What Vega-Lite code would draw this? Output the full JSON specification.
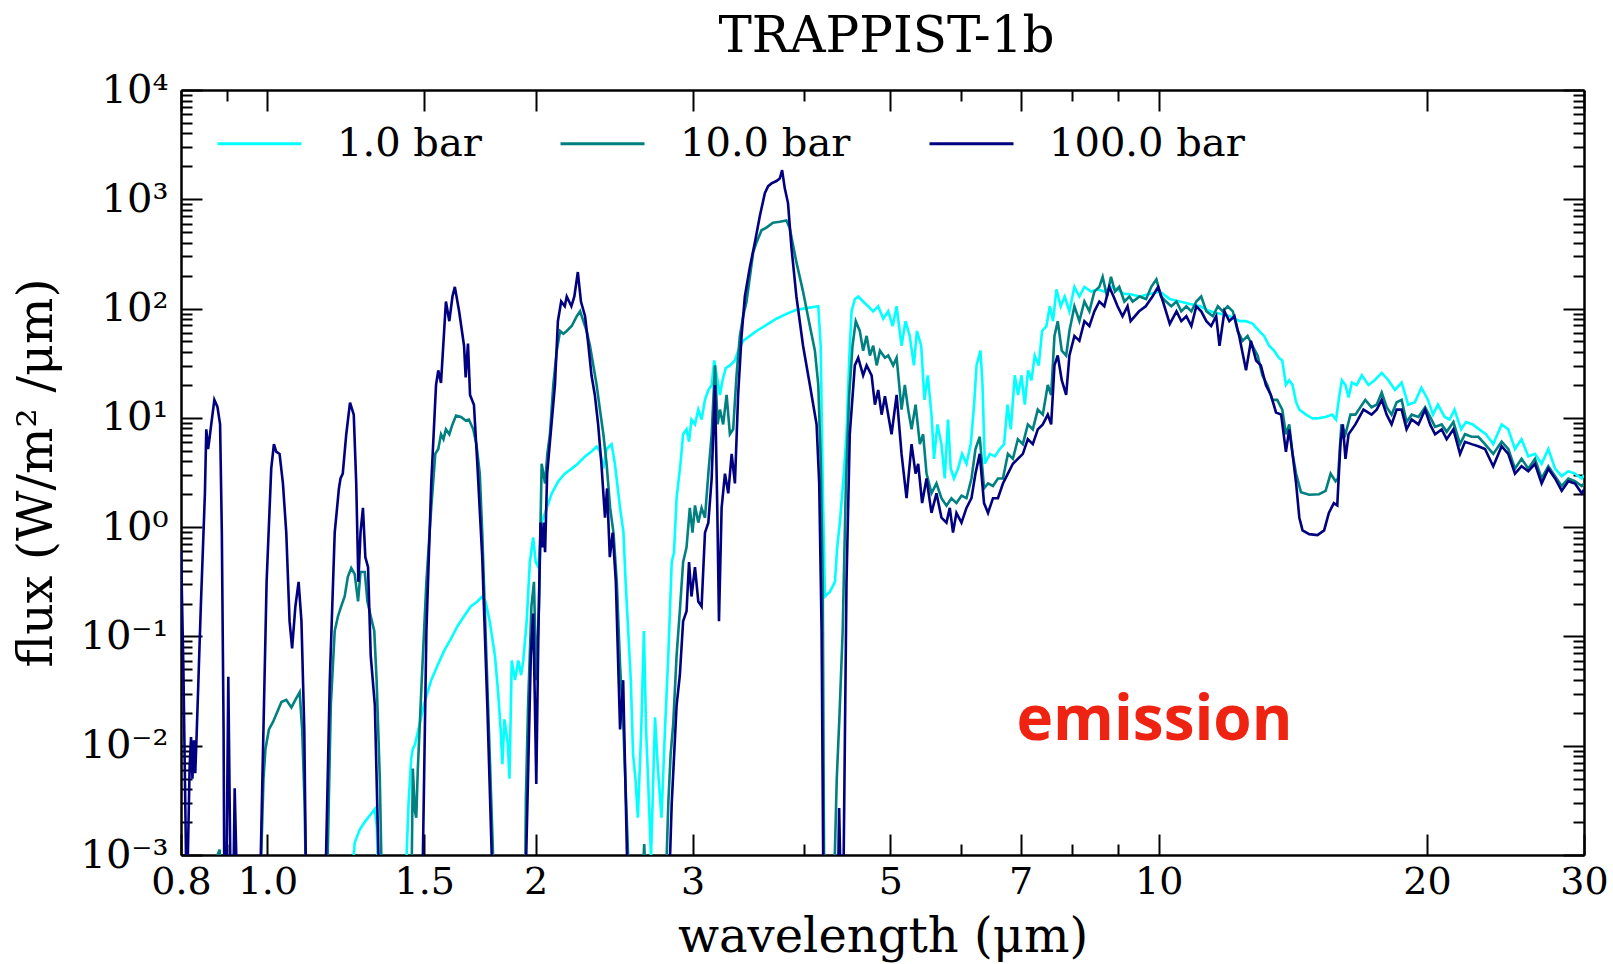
{
"$schema":"https://vega.github.io/schema/vega-lite/v6.json",
"width":1403,"height":765,
"autosize":{"type":"none"},
"padding":{"left":181,"top":90,"right":29,"bottom":109},
"background":"white",
"config":{"view":{"stroke":null},"font":"DejaVu Serif",
"axis":{"domainColor":"black","domainWidth":2.5,"tickColor":"black","tickWidth":2,"labelFont":"DejaVu Serif","labelFontSize":38,"labelColor":"black","titleFont":"DejaVu Serif","titleFontSize":48,"titleFontWeight":"normal","titleColor":"black","grid":false,"labelOverlap":false,"labelFlush":false}},
"title":{"text":"TRAPPIST-1b","font":"DejaVu Serif","fontSize":50,"fontWeight":"normal","color":"black","offset":-32,"baseline":"alphabetic","anchor":"middle","dx":4},
"datasets":{"spec":[
{"p":"1.0 bar","w":0.8,"f":0.0003},{"p":"1.0 bar","w":1.235,"f":0.0003},{"p":"1.0 bar","w":1.253,"f":0.00129},{"p":"1.0 bar","w":1.269,"f":0.0017},{"p":"1.0 bar","w":1.286,"f":0.002},{"p":"1.0 bar","w":1.302,"f":0.00229},{"p":"1.0 bar","w":1.32,"f":0.00263},{"p":"1.0 bar","w":1.327,"f":0.00178},{"p":"1.0 bar","w":1.333,"f":0.0003},{"p":"1.0 bar","w":1.425,"f":0.0003},{"p":"1.0 bar","w":1.44,"f":0.00295},{"p":"1.0 bar","w":1.45,"f":0.00759},{"p":"1.0 bar","w":1.456,"f":0.00933},{"p":"1.0 bar","w":1.464,"f":0.0102},{"p":"1.0 bar","w":1.482,"f":0.0158},{"p":"1.0 bar","w":1.501,"f":0.0251},{"p":"1.0 bar","w":1.527,"f":0.0398},{"p":"1.0 bar","w":1.552,"f":0.0543},{"p":"1.0 bar","w":1.579,"f":0.0741},{"p":"1.0 bar","w":1.607,"f":0.0955},{"p":"1.0 bar","w":1.634,"f":0.124},{"p":"1.0 bar","w":1.662,"f":0.153},{"p":"1.0 bar","w":1.691,"f":0.188},{"p":"1.0 bar","w":1.72,"f":0.209},{"p":"1.0 bar","w":1.742,"f":0.232},{"p":"1.0 bar","w":1.757,"f":0.209},{"p":"1.0 bar","w":1.776,"f":0.138},{"p":"1.0 bar","w":1.8,"f":0.0668},{"p":"1.0 bar","w":1.814,"f":0.0324},{"p":"1.0 bar","w":1.827,"f":0.0141},{"p":"1.0 bar","w":1.835,"f":0.00676},{"p":"1.0 bar","w":1.845,"f":0.0174},{"p":"1.0 bar","w":1.861,"f":0.0104},{"p":"1.0 bar","w":1.869,"f":0.005},{"p":"1.0 bar","w":1.88,"f":0.0603},{"p":"1.0 bar","w":1.896,"f":0.0398},{"p":"1.0 bar","w":1.912,"f":0.0603},{"p":"1.0 bar","w":1.926,"f":0.0442},{"p":"1.0 bar","w":1.937,"f":0.0603},{"p":"1.0 bar","w":1.954,"f":0.138},{"p":"1.0 bar","w":1.97,"f":0.479},{"p":"1.0 bar","w":1.987,"f":0.804},{"p":"1.0 bar","w":2.0,"f":0.479},{"p":"1.0 bar","w":2.014,"f":0.431},{"p":"1.0 bar","w":2.031,"f":1.1},{"p":"1.0 bar","w":2.058,"f":1.5},{"p":"1.0 bar","w":2.085,"f":2.04},{"p":"1.0 bar","w":2.121,"f":2.64},{"p":"1.0 bar","w":2.156,"f":3.09},{"p":"1.0 bar","w":2.195,"f":3.43},{"p":"1.0 bar","w":2.23,"f":3.8},{"p":"1.0 bar","w":2.272,"f":4.44},{"p":"1.0 bar","w":2.31,"f":4.92},{"p":"1.0 bar","w":2.341,"f":5.46},{"p":"1.0 bar","w":2.361,"f":4.92},{"p":"1.0 bar","w":2.382,"f":3.43},{"p":"1.0 bar","w":2.402,"f":5.19},{"p":"1.0 bar","w":2.433,"f":5.75},{"p":"1.0 bar","w":2.454,"f":3.8},{"p":"1.0 bar","w":2.487,"f":1.5},{"p":"1.0 bar","w":2.509,"f":0.891},{"p":"1.0 bar","w":2.523,"f":0.316},{"p":"1.0 bar","w":2.54,"f":0.112},{"p":"1.0 bar","w":2.557,"f":0.0398},{"p":"1.0 bar","w":2.572,"f":0.00832},{"p":"1.0 bar","w":2.588,"f":0.005},{"p":"1.0 bar","w":2.604,"f":0.00219},{"p":"1.0 bar","w":2.627,"f":0.0141},{"p":"1.0 bar","w":2.645,"f":0.112},{"p":"1.0 bar","w":2.66,"f":0.0141},{"p":"1.0 bar","w":2.676,"f":0.00407},{"p":"1.0 bar","w":2.694,"f":0.00095},{"p":"1.0 bar","w":2.722,"f":0.0182},{"p":"1.0 bar","w":2.742,"f":0.0063},{"p":"1.0 bar","w":2.768,"f":0.00219},{"p":"1.0 bar","w":2.793,"f":0.0141},{"p":"1.0 bar","w":2.817,"f":0.0668},{"p":"1.0 bar","w":2.842,"f":0.479},{"p":"1.0 bar","w":2.859,"f":0.589},{"p":"1.0 bar","w":2.878,"f":1.84},{"p":"1.0 bar","w":2.907,"f":3.8},{"p":"1.0 bar","w":2.927,"f":7.08},{"p":"1.0 bar","w":2.953,"f":7.85},{"p":"1.0 bar","w":2.972,"f":6.05},{"p":"1.0 bar","w":2.991,"f":9.66},{"p":"1.0 bar","w":3.018,"f":8.71},{"p":"1.0 bar","w":3.044,"f":11.9},{"p":"1.0 bar","w":3.07,"f":9.66},{"p":"1.0 bar","w":3.097,"f":14.6},{"p":"1.0 bar","w":3.124,"f":18},{"p":"1.0 bar","w":3.151,"f":20},{"p":"1.0 bar","w":3.172,"f":33.5},{"p":"1.0 bar","w":3.192,"f":24.5},{"p":"1.0 bar","w":3.219,"f":16.2},{"p":"1.0 bar","w":3.241,"f":22.1},{"p":"1.0 bar","w":3.268,"f":28.6},{"p":"1.0 bar","w":3.303,"f":30.2},{"p":"1.0 bar","w":3.346,"f":33.5},{"p":"1.0 bar","w":3.374,"f":41.2},{"p":"1.0 bar","w":3.418,"f":50.7},{"p":"1.0 bar","w":3.478,"f":56.2},{"p":"1.0 bar","w":3.538,"f":62.4},{"p":"1.0 bar","w":3.63,"f":70.8},{"p":"1.0 bar","w":3.725,"f":80.7},{"p":"1.0 bar","w":3.822,"f":89.5},{"p":"1.0 bar","w":3.922,"f":97.3},{"p":"1.0 bar","w":4.025,"f":101},{"p":"1.0 bar","w":4.15,"f":105},{"p":"1.0 bar","w":4.176,"f":45.7},{"p":"1.0 bar","w":4.198,"f":2.51},{"p":"1.0 bar","w":4.222,"f":0.232},{"p":"1.0 bar","w":4.277,"f":0.257},{"p":"1.0 bar","w":4.333,"f":0.316},{"p":"1.0 bar","w":4.358,"f":0.653},{"p":"1.0 bar","w":4.388,"f":1.1},{"p":"1.0 bar","w":4.425,"f":2.51},{"p":"1.0 bar","w":4.464,"f":7.08},{"p":"1.0 bar","w":4.495,"f":33.5},{"p":"1.0 bar","w":4.523,"f":94.4},{"p":"1.0 bar","w":4.561,"f":122},{"p":"1.0 bar","w":4.601,"f":129},{"p":"1.0 bar","w":4.66,"f":116},{"p":"1.0 bar","w":4.72,"f":105},{"p":"1.0 bar","w":4.783,"f":94.4},{"p":"1.0 bar","w":4.845,"f":105},{"p":"1.0 bar","w":4.909,"f":80.7},{"p":"1.0 bar","w":4.972,"f":94.4},{"p":"1.0 bar","w":5.03,"f":69.2},{"p":"1.0 bar","w":5.081,"f":105},{"p":"1.0 bar","w":5.146,"f":45.7},{"p":"1.0 bar","w":5.199,"f":76.7},{"p":"1.0 bar","w":5.256,"f":56.2},{"p":"1.0 bar","w":5.313,"f":30.2},{"p":"1.0 bar","w":5.354,"f":62.4},{"p":"1.0 bar","w":5.414,"f":45.7},{"p":"1.0 bar","w":5.46,"f":14.6},{"p":"1.0 bar","w":5.507,"f":24.5},{"p":"1.0 bar","w":5.56,"f":10.7},{"p":"1.0 bar","w":5.596,"f":4.22},{"p":"1.0 bar","w":5.646,"f":8.71},{"p":"1.0 bar","w":5.705,"f":5.75},{"p":"1.0 bar","w":5.754,"f":2.79},{"p":"1.0 bar","w":5.803,"f":9.66},{"p":"1.0 bar","w":5.843,"f":3.43},{"p":"1.0 bar","w":5.893,"f":2.79},{"p":"1.0 bar","w":5.955,"f":3.43},{"p":"1.0 bar","w":6.017,"f":4.68},{"p":"1.0 bar","w":6.086,"f":3.8},{"p":"1.0 bar","w":6.154,"f":5.75},{"p":"1.0 bar","w":6.207,"f":13.2},{"p":"1.0 bar","w":6.246,"f":30.2},{"p":"1.0 bar","w":6.31,"f":41.2},{"p":"1.0 bar","w":6.343,"f":20},{"p":"1.0 bar","w":6.381,"f":3.8},{"p":"1.0 bar","w":6.464,"f":4.68},{"p":"1.0 bar","w":6.548,"f":4.44},{"p":"1.0 bar","w":6.633,"f":5.19},{"p":"1.0 bar","w":6.707,"f":5.75},{"p":"1.0 bar","w":6.766,"f":13.2},{"p":"1.0 bar","w":6.824,"f":7.85},{"p":"1.0 bar","w":6.895,"f":24.5},{"p":"1.0 bar","w":6.954,"f":16.2},{"p":"1.0 bar","w":7.015,"f":24.5},{"p":"1.0 bar","w":7.075,"f":13.2},{"p":"1.0 bar","w":7.136,"f":27.2},{"p":"1.0 bar","w":7.198,"f":22.1},{"p":"1.0 bar","w":7.26,"f":37.2},{"p":"1.0 bar","w":7.335,"f":30.2},{"p":"1.0 bar","w":7.398,"f":62.4},{"p":"1.0 bar","w":7.482,"f":69.2},{"p":"1.0 bar","w":7.547,"f":105},{"p":"1.0 bar","w":7.611,"f":76.7},{"p":"1.0 bar","w":7.678,"f":150},{"p":"1.0 bar","w":7.763,"f":105},{"p":"1.0 bar","w":7.844,"f":129},{"p":"1.0 bar","w":7.94,"f":94.4},{"p":"1.0 bar","w":8.043,"f":158},{"p":"1.0 bar","w":8.147,"f":129},{"p":"1.0 bar","w":8.253,"f":158},{"p":"1.0 bar","w":8.396,"f":143},{"p":"1.0 bar","w":8.541,"f":150},{"p":"1.0 bar","w":8.689,"f":143},{"p":"1.0 bar","w":8.84,"f":158},{"p":"1.0 bar","w":8.991,"f":150},{"p":"1.0 bar","w":9.15,"f":136},{"p":"1.0 bar","w":9.27,"f":136},{"p":"1.0 bar","w":9.52,"f":129},{"p":"1.0 bar","w":9.77,"f":136},{"p":"1.0 bar","w":10.03,"f":143},{"p":"1.0 bar","w":10.29,"f":122},{"p":"1.0 bar","w":10.56,"f":116},{"p":"1.0 bar","w":10.84,"f":110},{"p":"1.0 bar","w":11.13,"f":105},{"p":"1.0 bar","w":11.42,"f":94.4},{"p":"1.0 bar","w":11.72,"f":89.5},{"p":"1.0 bar","w":12.02,"f":85.1},{"p":"1.0 bar","w":12.33,"f":76.7},{"p":"1.0 bar","w":12.53,"f":76.7},{"p":"1.0 bar","w":12.74,"f":72.8},{"p":"1.0 bar","w":12.96,"f":62.4},{"p":"1.0 bar","w":13.13,"f":56.2},{"p":"1.0 bar","w":13.3,"f":45.7},{"p":"1.0 bar","w":13.47,"f":41.2},{"p":"1.0 bar","w":13.65,"f":35.2},{"p":"1.0 bar","w":13.76,"f":33.5},{"p":"1.0 bar","w":13.89,"f":20},{"p":"1.0 bar","w":14.01,"f":22.1},{"p":"1.0 bar","w":14.13,"f":20},{"p":"1.0 bar","w":14.26,"f":13.9},{"p":"1.0 bar","w":14.38,"f":11.9},{"p":"1.0 bar","w":14.63,"f":10.7},{"p":"1.0 bar","w":14.88,"f":9.86},{"p":"1.0 bar","w":15.13,"f":9.95},{"p":"1.0 bar","w":15.39,"f":10.2},{"p":"1.0 bar","w":15.65,"f":10.7},{"p":"1.0 bar","w":15.81,"f":9.66},{"p":"1.0 bar","w":15.95,"f":16.2},{"p":"1.0 bar","w":16.05,"f":22.1},{"p":"1.0 bar","w":16.2,"f":20},{"p":"1.0 bar","w":16.33,"f":15.4},{"p":"1.0 bar","w":16.47,"f":21},{"p":"1.0 bar","w":16.68,"f":20},{"p":"1.0 bar","w":16.9,"f":24.5},{"p":"1.0 bar","w":17.19,"f":20},{"p":"1.0 bar","w":17.47,"f":22.1},{"p":"1.0 bar","w":17.79,"f":25.8},{"p":"1.0 bar","w":18.1,"f":22.1},{"p":"1.0 bar","w":18.41,"f":18},{"p":"1.0 bar","w":18.73,"f":21},{"p":"1.0 bar","w":19.05,"f":13.2},{"p":"1.0 bar","w":19.38,"f":13.9},{"p":"1.0 bar","w":19.71,"f":18.9},{"p":"1.0 bar","w":20.05,"f":14.6},{"p":"1.0 bar","w":20.31,"f":10.7},{"p":"1.0 bar","w":20.57,"f":13.2},{"p":"1.0 bar","w":20.93,"f":10.2},{"p":"1.0 bar","w":21.2,"f":9.66},{"p":"1.0 bar","w":21.47,"f":11.9},{"p":"1.0 bar","w":21.84,"f":7.85},{"p":"1.0 bar","w":22.12,"f":9.16},{"p":"1.0 bar","w":22.5,"f":8.71},{"p":"1.0 bar","w":22.89,"f":7.85},{"p":"1.0 bar","w":23.29,"f":7.08},{"p":"1.0 bar","w":23.73,"f":5.75},{"p":"1.0 bar","w":24.25,"f":8.71},{"p":"1.0 bar","w":24.67,"f":7.85},{"p":"1.0 bar","w":25.1,"f":5.19},{"p":"1.0 bar","w":25.53,"f":6.38},{"p":"1.0 bar","w":25.98,"f":4.44},{"p":"1.0 bar","w":26.43,"f":4.68},{"p":"1.0 bar","w":26.89,"f":3.8},{"p":"1.0 bar","w":27.36,"f":5.19},{"p":"1.0 bar","w":27.84,"f":3.43},{"p":"1.0 bar","w":28.32,"f":2.93},{"p":"1.0 bar","w":28.81,"f":3.25},{"p":"1.0 bar","w":29.31,"f":3.09},{"p":"1.0 bar","w":29.82,"f":2.79},{"p":"1.0 bar","w":30.0,"f":3.0},
{"p":"10.0 bar","w":0.8,"f":0.0003},{"p":"10.0 bar","w":0.87,"f":0.0003},{"p":"10.0 bar","w":0.879,"f":0.001},{"p":"10.0 bar","w":0.884,"f":0.00112},{"p":"10.0 bar","w":0.888,"f":0.0003},{"p":"10.0 bar","w":0.98,"f":0.0003},{"p":"10.0 bar","w":0.99,"f":0.005},{"p":"10.0 bar","w":0.995,"f":0.00933},{"p":"10.0 bar","w":1.004,"f":0.0141},{"p":"10.0 bar","w":1.015,"f":0.0166},{"p":"10.0 bar","w":1.023,"f":0.0193},{"p":"10.0 bar","w":1.037,"f":0.0251},{"p":"10.0 bar","w":1.05,"f":0.0263},{"p":"10.0 bar","w":1.064,"f":0.0224},{"p":"10.0 bar","w":1.075,"f":0.0263},{"p":"10.0 bar","w":1.087,"f":0.0309},{"p":"10.0 bar","w":1.094,"f":0.0141},{"p":"10.0 bar","w":1.101,"f":0.00295},{"p":"10.0 bar","w":1.106,"f":0.0003},{"p":"10.0 bar","w":1.165,"f":0.0003},{"p":"10.0 bar","w":1.178,"f":0.0234},{"p":"10.0 bar","w":1.19,"f":0.112},{"p":"10.0 bar","w":1.2,"f":0.153},{"p":"10.0 bar","w":1.21,"f":0.188},{"p":"10.0 bar","w":1.221,"f":0.232},{"p":"10.0 bar","w":1.231,"f":0.351},{"p":"10.0 bar","w":1.242,"f":0.422},{"p":"10.0 bar","w":1.253,"f":0.372},{"p":"10.0 bar","w":1.264,"f":0.209},{"p":"10.0 bar","w":1.272,"f":0.389},{"p":"10.0 bar","w":1.286,"f":0.389},{"p":"10.0 bar","w":1.295,"f":0.209},{"p":"10.0 bar","w":1.306,"f":0.153},{"p":"10.0 bar","w":1.318,"f":0.112},{"p":"10.0 bar","w":1.326,"f":0.0398},{"p":"10.0 bar","w":1.337,"f":0.005},{"p":"10.0 bar","w":1.346,"f":0.0003},{"p":"10.0 bar","w":1.45,"f":0.0003},{"p":"10.0 bar","w":1.456,"f":0.00617},{"p":"10.0 bar","w":1.464,"f":0.00251},{"p":"10.0 bar","w":1.469,"f":0.00219},{"p":"10.0 bar","w":1.475,"f":0.00617},{"p":"10.0 bar","w":1.49,"f":0.0398},{"p":"10.0 bar","w":1.508,"f":0.316},{"p":"10.0 bar","w":1.527,"f":1.5},{"p":"10.0 bar","w":1.543,"f":4.68},{"p":"10.0 bar","w":1.555,"f":5.19},{"p":"10.0 bar","w":1.566,"f":7.08},{"p":"10.0 bar","w":1.576,"f":6.38},{"p":"10.0 bar","w":1.586,"f":7.85},{"p":"10.0 bar","w":1.6,"f":7.08},{"p":"10.0 bar","w":1.613,"f":8.71},{"p":"10.0 bar","w":1.628,"f":10.5},{"p":"10.0 bar","w":1.649,"f":10.2},{"p":"10.0 bar","w":1.669,"f":9.44},{"p":"10.0 bar","w":1.683,"f":9.66},{"p":"10.0 bar","w":1.702,"f":7.85},{"p":"10.0 bar","w":1.716,"f":5.75},{"p":"10.0 bar","w":1.731,"f":3.09},{"p":"10.0 bar","w":1.742,"f":0.891},{"p":"10.0 bar","w":1.757,"f":0.112},{"p":"10.0 bar","w":1.776,"f":0.00832},{"p":"10.0 bar","w":1.8,"f":0.0003},{"p":"10.0 bar","w":1.945,"f":0.0003},{"p":"10.0 bar","w":1.95,"f":0.00331},{"p":"10.0 bar","w":1.961,"f":0.0234},{"p":"10.0 bar","w":1.978,"f":0.188},{"p":"10.0 bar","w":1.991,"f":0.316},{"p":"10.0 bar","w":2.003,"f":0.0398},{"p":"10.0 bar","w":2.017,"f":0.188},{"p":"10.0 bar","w":2.031,"f":3.8},{"p":"10.0 bar","w":2.049,"f":2.51},{"p":"10.0 bar","w":2.061,"f":4.68},{"p":"10.0 bar","w":2.075,"f":7.08},{"p":"10.0 bar","w":2.093,"f":20},{"p":"10.0 bar","w":2.112,"f":41.2},{"p":"10.0 bar","w":2.13,"f":62.4},{"p":"10.0 bar","w":2.148,"f":58.9},{"p":"10.0 bar","w":2.167,"f":62.4},{"p":"10.0 bar","w":2.195,"f":69.2},{"p":"10.0 bar","w":2.224,"f":85.1},{"p":"10.0 bar","w":2.243,"f":94.4},{"p":"10.0 bar","w":2.262,"f":76.7},{"p":"10.0 bar","w":2.281,"f":62.4},{"p":"10.0 bar","w":2.301,"f":45.7},{"p":"10.0 bar","w":2.321,"f":30.2},{"p":"10.0 bar","w":2.341,"f":20},{"p":"10.0 bar","w":2.361,"f":11.9},{"p":"10.0 bar","w":2.382,"f":7.08},{"p":"10.0 bar","w":2.402,"f":3.8},{"p":"10.0 bar","w":2.424,"f":1.5},{"p":"10.0 bar","w":2.445,"f":0.891},{"p":"10.0 bar","w":2.466,"f":0.316},{"p":"10.0 bar","w":2.487,"f":0.0543},{"p":"10.0 bar","w":2.509,"f":0.0141},{"p":"10.0 bar","w":2.553,"f":0.0003},{"p":"10.0 bar","w":2.627,"f":0.0003},{"p":"10.0 bar","w":2.647,"f":0.00126},{"p":"10.0 bar","w":2.667,"f":0.0003},{"p":"10.0 bar","w":2.793,"f":0.0003},{"p":"10.0 bar","w":2.817,"f":0.00295},{"p":"10.0 bar","w":2.834,"f":0.00832},{"p":"10.0 bar","w":2.853,"f":0.0158},{"p":"10.0 bar","w":2.878,"f":0.0668},{"p":"10.0 bar","w":2.902,"f":0.17},{"p":"10.0 bar","w":2.927,"f":0.479},{"p":"10.0 bar","w":2.953,"f":0.653},{"p":"10.0 bar","w":2.978,"f":1.5},{"p":"10.0 bar","w":2.999,"f":0.891},{"p":"10.0 bar","w":3.018,"f":1.58},{"p":"10.0 bar","w":3.044,"f":1.1},{"p":"10.0 bar","w":3.07,"f":1.5},{"p":"10.0 bar","w":3.097,"f":1.22},{"p":"10.0 bar","w":3.124,"f":3.09},{"p":"10.0 bar","w":3.151,"f":7.08},{"p":"10.0 bar","w":3.178,"f":30.2},{"p":"10.0 bar","w":3.2,"f":8.71},{"p":"10.0 bar","w":3.219,"f":11.9},{"p":"10.0 bar","w":3.246,"f":8.71},{"p":"10.0 bar","w":3.275,"f":16.2},{"p":"10.0 bar","w":3.303,"f":7.08},{"p":"10.0 bar","w":3.331,"f":7.85},{"p":"10.0 bar","w":3.36,"f":24.5},{"p":"10.0 bar","w":3.389,"f":56.2},{"p":"10.0 bar","w":3.418,"f":85.1},{"p":"10.0 bar","w":3.448,"f":116},{"p":"10.0 bar","w":3.478,"f":195},{"p":"10.0 bar","w":3.508,"f":327},{"p":"10.0 bar","w":3.538,"f":403},{"p":"10.0 bar","w":3.584,"f":521},{"p":"10.0 bar","w":3.63,"f":550},{"p":"10.0 bar","w":3.692,"f":610},{"p":"10.0 bar","w":3.757,"f":622},{"p":"10.0 bar","w":3.822,"f":641},{"p":"10.0 bar","w":3.854,"f":550},{"p":"10.0 bar","w":3.922,"f":266},{"p":"10.0 bar","w":3.99,"f":143},{"p":"10.0 bar","w":4.061,"f":69.2},{"p":"10.0 bar","w":4.114,"f":41.2},{"p":"10.0 bar","w":4.15,"f":20},{"p":"10.0 bar","w":4.176,"f":4.22},{"p":"10.0 bar","w":4.198,"f":0.316},{"p":"10.0 bar","w":4.215,"f":0.0003},{"p":"10.0 bar","w":4.315,"f":0.0003},{"p":"10.0 bar","w":4.353,"f":0.005},{"p":"10.0 bar","w":4.382,"f":0.0174},{"p":"10.0 bar","w":4.42,"f":0.112},{"p":"10.0 bar","w":4.457,"f":2.51},{"p":"10.0 bar","w":4.495,"f":16.2},{"p":"10.0 bar","w":4.534,"f":45.7},{"p":"10.0 bar","w":4.572,"f":76.7},{"p":"10.0 bar","w":4.62,"f":62.4},{"p":"10.0 bar","w":4.66,"f":41.2},{"p":"10.0 bar","w":4.702,"f":56.2},{"p":"10.0 bar","w":4.742,"f":37.2},{"p":"10.0 bar","w":4.783,"f":45.7},{"p":"10.0 bar","w":4.826,"f":30.2},{"p":"10.0 bar","w":4.867,"f":41.2},{"p":"10.0 bar","w":4.93,"f":35.5},{"p":"10.0 bar","w":4.972,"f":37.2},{"p":"10.0 bar","w":5.036,"f":30.2},{"p":"10.0 bar","w":5.081,"f":35.5},{"p":"10.0 bar","w":5.146,"f":11.9},{"p":"10.0 bar","w":5.19,"f":20},{"p":"10.0 bar","w":5.235,"f":11.9},{"p":"10.0 bar","w":5.281,"f":7.85},{"p":"10.0 bar","w":5.336,"f":13.2},{"p":"10.0 bar","w":5.395,"f":5.75},{"p":"10.0 bar","w":5.441,"f":7.08},{"p":"10.0 bar","w":5.489,"f":3.09},{"p":"10.0 bar","w":5.56,"f":2.04},{"p":"10.0 bar","w":5.632,"f":2.51},{"p":"10.0 bar","w":5.705,"f":1.84},{"p":"10.0 bar","w":5.779,"f":1.57},{"p":"10.0 bar","w":5.854,"f":1.84},{"p":"10.0 bar","w":5.93,"f":1.66},{"p":"10.0 bar","w":6.008,"f":1.94},{"p":"10.0 bar","w":6.086,"f":1.84},{"p":"10.0 bar","w":6.165,"f":2.79},{"p":"10.0 bar","w":6.229,"f":5.19},{"p":"10.0 bar","w":6.298,"f":6.71},{"p":"10.0 bar","w":6.368,"f":2.26},{"p":"10.0 bar","w":6.434,"f":2.51},{"p":"10.0 bar","w":6.517,"f":2.38},{"p":"10.0 bar","w":6.601,"f":2.79},{"p":"10.0 bar","w":6.687,"f":2.79},{"p":"10.0 bar","w":6.773,"f":4.68},{"p":"10.0 bar","w":6.861,"f":4.22},{"p":"10.0 bar","w":6.95,"f":6.38},{"p":"10.0 bar","w":7.04,"f":5.75},{"p":"10.0 bar","w":7.131,"f":8.71},{"p":"10.0 bar","w":7.223,"f":7.85},{"p":"10.0 bar","w":7.317,"f":11.9},{"p":"10.0 bar","w":7.412,"f":10.7},{"p":"10.0 bar","w":7.508,"f":20},{"p":"10.0 bar","w":7.574,"f":16.2},{"p":"10.0 bar","w":7.639,"f":56.2},{"p":"10.0 bar","w":7.704,"f":76.7},{"p":"10.0 bar","w":7.784,"f":41.2},{"p":"10.0 bar","w":7.873,"f":37.2},{"p":"10.0 bar","w":7.94,"f":62.4},{"p":"10.0 bar","w":8.043,"f":105},{"p":"10.0 bar","w":8.147,"f":76.7},{"p":"10.0 bar","w":8.253,"f":116},{"p":"10.0 bar","w":8.36,"f":94.4},{"p":"10.0 bar","w":8.468,"f":143},{"p":"10.0 bar","w":8.578,"f":158},{"p":"10.0 bar","w":8.652,"f":195},{"p":"10.0 bar","w":8.75,"f":129},{"p":"10.0 bar","w":8.84,"f":195},{"p":"10.0 bar","w":8.932,"f":143},{"p":"10.0 bar","w":9.03,"f":158},{"p":"10.0 bar","w":9.15,"f":116},{"p":"10.0 bar","w":9.27,"f":129},{"p":"10.0 bar","w":9.35,"f":116},{"p":"10.0 bar","w":9.52,"f":129},{"p":"10.0 bar","w":9.68,"f":122},{"p":"10.0 bar","w":9.81,"f":158},{"p":"10.0 bar","w":9.94,"f":185},{"p":"10.0 bar","w":10.06,"f":129},{"p":"10.0 bar","w":10.19,"f":116},{"p":"10.0 bar","w":10.33,"f":105},{"p":"10.0 bar","w":10.47,"f":116},{"p":"10.0 bar","w":10.6,"f":94.4},{"p":"10.0 bar","w":10.74,"f":105},{"p":"10.0 bar","w":10.88,"f":94.4},{"p":"10.0 bar","w":11.02,"f":116},{"p":"10.0 bar","w":11.16,"f":129},{"p":"10.0 bar","w":11.31,"f":94.4},{"p":"10.0 bar","w":11.5,"f":85.1},{"p":"10.0 bar","w":11.65,"f":105},{"p":"10.0 bar","w":11.8,"f":94.4},{"p":"10.0 bar","w":11.95,"f":105},{"p":"10.0 bar","w":12.11,"f":94.4},{"p":"10.0 bar","w":12.26,"f":62.4},{"p":"10.0 bar","w":12.42,"f":50.7},{"p":"10.0 bar","w":12.58,"f":56.2},{"p":"10.0 bar","w":12.74,"f":45.7},{"p":"10.0 bar","w":12.91,"f":37.2},{"p":"10.0 bar","w":13.07,"f":24.5},{"p":"10.0 bar","w":13.24,"f":20},{"p":"10.0 bar","w":13.41,"f":14.6},{"p":"10.0 bar","w":13.58,"f":14.6},{"p":"10.0 bar","w":13.76,"f":11.9},{"p":"10.0 bar","w":13.89,"f":7.08},{"p":"10.0 bar","w":14.01,"f":8.71},{"p":"10.0 bar","w":14.13,"f":4.68},{"p":"10.0 bar","w":14.26,"f":3.09},{"p":"10.0 bar","w":14.44,"f":2.09},{"p":"10.0 bar","w":14.75,"f":1.98},{"p":"10.0 bar","w":15.13,"f":2.0},{"p":"10.0 bar","w":15.39,"f":2.15},{"p":"10.0 bar","w":15.59,"f":3.09},{"p":"10.0 bar","w":15.79,"f":2.63},{"p":"10.0 bar","w":15.89,"f":2.79},{"p":"10.0 bar","w":16.03,"f":8.71},{"p":"10.0 bar","w":16.2,"f":7.08},{"p":"10.0 bar","w":16.41,"f":10.7},{"p":"10.0 bar","w":16.62,"f":10.7},{"p":"10.0 bar","w":17.05,"f":14.6},{"p":"10.0 bar","w":17.33,"f":12.5},{"p":"10.0 bar","w":17.56,"f":13.2},{"p":"10.0 bar","w":17.79,"f":17.1},{"p":"10.0 bar","w":18.02,"f":12.5},{"p":"10.0 bar","w":18.25,"f":10.7},{"p":"10.0 bar","w":18.49,"f":13.9},{"p":"10.0 bar","w":18.73,"f":14.6},{"p":"10.0 bar","w":18.97,"f":9.16},{"p":"10.0 bar","w":19.22,"f":10.7},{"p":"10.0 bar","w":19.56,"f":10.2},{"p":"10.0 bar","w":19.9,"f":12.5},{"p":"10.0 bar","w":20.16,"f":10.2},{"p":"10.0 bar","w":20.42,"f":8.26},{"p":"10.0 bar","w":20.77,"f":8.71},{"p":"10.0 bar","w":21.04,"f":7.45},{"p":"10.0 bar","w":21.41,"f":9.16},{"p":"10.0 bar","w":21.78,"f":5.75},{"p":"10.0 bar","w":22.06,"f":7.08},{"p":"10.0 bar","w":22.44,"f":6.71},{"p":"10.0 bar","w":22.83,"f":6.71},{"p":"10.0 bar","w":23.23,"f":5.75},{"p":"10.0 bar","w":23.73,"f":4.68},{"p":"10.0 bar","w":24.25,"f":6.05},{"p":"10.0 bar","w":24.67,"f":5.19},{"p":"10.0 bar","w":25.1,"f":3.43},{"p":"10.0 bar","w":25.53,"f":4.22},{"p":"10.0 bar","w":25.98,"f":3.43},{"p":"10.0 bar","w":26.43,"f":4.22},{"p":"10.0 bar","w":26.89,"f":2.79},{"p":"10.0 bar","w":27.36,"f":3.61},{"p":"10.0 bar","w":27.84,"f":2.93},{"p":"10.0 bar","w":28.32,"f":2.38},{"p":"10.0 bar","w":28.81,"f":2.79},{"p":"10.0 bar","w":29.31,"f":2.64},{"p":"10.0 bar","w":29.82,"f":2.38},{"p":"10.0 bar","w":30.0,"f":2.5},
{"p":"100.0 bar","w":0.8,"f":0.617},{"p":"100.0 bar","w":0.805,"f":0.0501},{"p":"100.0 bar","w":0.812,"f":0.0003},{"p":"100.0 bar","w":0.818,"f":0.0063},{"p":"100.0 bar","w":0.821,"f":0.012},{"p":"100.0 bar","w":0.824,"f":0.005},{"p":"100.0 bar","w":0.827,"f":0.0112},{"p":"100.0 bar","w":0.83,"f":0.0056},{"p":"100.0 bar","w":0.833,"f":0.0126},{"p":"100.0 bar","w":0.842,"f":0.186},{"p":"100.0 bar","w":0.851,"f":2.04},{"p":"100.0 bar","w":0.854,"f":7.85},{"p":"100.0 bar","w":0.858,"f":5.19},{"p":"100.0 bar","w":0.861,"f":6.38},{"p":"100.0 bar","w":0.865,"f":8.71},{"p":"100.0 bar","w":0.872,"f":14.6},{"p":"100.0 bar","w":0.879,"f":12.6},{"p":"100.0 bar","w":0.885,"f":8.71},{"p":"100.0 bar","w":0.889,"f":0.891},{"p":"100.0 bar","w":0.893,"f":0.0141},{"p":"100.0 bar","w":0.895,"f":0.0003},{"p":"100.0 bar","w":0.899,"f":0.0003},{"p":"100.0 bar","w":0.904,"f":0.0427},{"p":"100.0 bar","w":0.91,"f":0.0003},{"p":"100.0 bar","w":0.915,"f":0.0003},{"p":"100.0 bar","w":0.919,"f":0.00407},{"p":"100.0 bar","w":0.926,"f":0.0003},{"p":"100.0 bar","w":0.98,"f":0.0003},{"p":"100.0 bar","w":0.998,"f":0.316},{"p":"100.0 bar","w":1.01,"f":3.43},{"p":"100.0 bar","w":1.017,"f":5.75},{"p":"100.0 bar","w":1.023,"f":4.9},{"p":"100.0 bar","w":1.032,"f":4.68},{"p":"100.0 bar","w":1.041,"f":2.51},{"p":"100.0 bar","w":1.05,"f":0.891},{"p":"100.0 bar","w":1.059,"f":0.138},{"p":"100.0 bar","w":1.066,"f":0.0776},{"p":"100.0 bar","w":1.075,"f":0.188},{"p":"100.0 bar","w":1.084,"f":0.316},{"p":"100.0 bar","w":1.092,"f":0.138},{"p":"100.0 bar","w":1.1,"f":0.0141},{"p":"100.0 bar","w":1.106,"f":0.0003},{"p":"100.0 bar","w":1.16,"f":0.0003},{"p":"100.0 bar","w":1.175,"f":0.0398},{"p":"100.0 bar","w":1.19,"f":0.891},{"p":"100.0 bar","w":1.203,"f":2.26},{"p":"100.0 bar","w":1.208,"f":2.79},{"p":"100.0 bar","w":1.215,"f":3.09},{"p":"100.0 bar","w":1.226,"f":7.08},{"p":"100.0 bar","w":1.238,"f":13.8},{"p":"100.0 bar","w":1.25,"f":10.7},{"p":"100.0 bar","w":1.258,"f":2.51},{"p":"100.0 bar","w":1.265,"f":0.316},{"p":"100.0 bar","w":1.272,"f":0.891},{"p":"100.0 bar","w":1.28,"f":1.5},{"p":"100.0 bar","w":1.288,"f":0.531},{"p":"100.0 bar","w":1.297,"f":0.431},{"p":"100.0 bar","w":1.306,"f":0.0668},{"p":"100.0 bar","w":1.32,"f":0.0234},{"p":"100.0 bar","w":1.337,"f":0.0003},{"p":"100.0 bar","w":1.491,"f":0.0003},{"p":"100.0 bar","w":1.508,"f":0.112},{"p":"100.0 bar","w":1.527,"f":2.51},{"p":"100.0 bar","w":1.546,"f":20},{"p":"100.0 bar","w":1.555,"f":27.2},{"p":"100.0 bar","w":1.566,"f":20.9},{"p":"100.0 bar","w":1.586,"f":116},{"p":"100.0 bar","w":1.6,"f":76.7},{"p":"100.0 bar","w":1.613,"f":129},{"p":"100.0 bar","w":1.623,"f":158},{"p":"100.0 bar","w":1.641,"f":94.4},{"p":"100.0 bar","w":1.662,"f":45.7},{"p":"100.0 bar","w":1.669,"f":23.4},{"p":"100.0 bar","w":1.679,"f":47.9},{"p":"100.0 bar","w":1.688,"f":16.2},{"p":"100.0 bar","w":1.705,"f":13.2},{"p":"100.0 bar","w":1.72,"f":3.8},{"p":"100.0 bar","w":1.742,"f":0.531},{"p":"100.0 bar","w":1.765,"f":0.0234},{"p":"100.0 bar","w":1.793,"f":0.0003},{"p":"100.0 bar","w":1.945,"f":0.0003},{"p":"100.0 bar","w":1.975,"f":0.0668},{"p":"100.0 bar","w":1.987,"f":0.162},{"p":"100.0 bar","w":1.996,"f":0.0234},{"p":"100.0 bar","w":2.003,"f":0.00447},{"p":"100.0 bar","w":2.014,"f":0.112},{"p":"100.0 bar","w":2.025,"f":1.1},{"p":"100.0 bar","w":2.035,"f":0.653},{"p":"100.0 bar","w":2.042,"f":1.1},{"p":"100.0 bar","w":2.049,"f":0.589},{"p":"100.0 bar","w":2.06,"f":3.09},{"p":"100.0 bar","w":2.102,"f":20},{"p":"100.0 bar","w":2.118,"f":76.7},{"p":"100.0 bar","w":2.136,"f":116},{"p":"100.0 bar","w":2.156,"f":105},{"p":"100.0 bar","w":2.167,"f":129},{"p":"100.0 bar","w":2.193,"f":105},{"p":"100.0 bar","w":2.21,"f":129},{"p":"100.0 bar","w":2.23,"f":216},{"p":"100.0 bar","w":2.248,"f":116},{"p":"100.0 bar","w":2.272,"f":85.1},{"p":"100.0 bar","w":2.292,"f":45.7},{"p":"100.0 bar","w":2.31,"f":24.5},{"p":"100.0 bar","w":2.33,"f":16.2},{"p":"100.0 bar","w":2.35,"f":8.71},{"p":"100.0 bar","w":2.37,"f":3.8},{"p":"100.0 bar","w":2.392,"f":1.22},{"p":"100.0 bar","w":2.405,"f":2.26},{"p":"100.0 bar","w":2.422,"f":0.531},{"p":"100.0 bar","w":2.44,"f":0.891},{"p":"100.0 bar","w":2.46,"f":0.316},{"p":"100.0 bar","w":2.487,"f":0.0141},{"p":"100.0 bar","w":2.507,"f":0.0398},{"p":"100.0 bar","w":2.54,"f":0.0003},{"p":"100.0 bar","w":2.817,"f":0.0003},{"p":"100.0 bar","w":2.842,"f":0.00295},{"p":"100.0 bar","w":2.878,"f":0.0234},{"p":"100.0 bar","w":2.902,"f":0.0437},{"p":"100.0 bar","w":2.927,"f":0.138},{"p":"100.0 bar","w":2.953,"f":0.17},{"p":"100.0 bar","w":2.972,"f":0.479},{"p":"100.0 bar","w":2.991,"f":0.232},{"p":"100.0 bar","w":3.018,"f":0.431},{"p":"100.0 bar","w":3.044,"f":0.209},{"p":"100.0 bar","w":3.07,"f":0.188},{"p":"100.0 bar","w":3.097,"f":0.891},{"p":"100.0 bar","w":3.124,"f":1.1},{"p":"100.0 bar","w":3.151,"f":2.79},{"p":"100.0 bar","w":3.178,"f":20},{"p":"100.0 bar","w":3.197,"f":1.5},{"p":"100.0 bar","w":3.211,"f":0.138},{"p":"100.0 bar","w":3.233,"f":1.5},{"p":"100.0 bar","w":3.261,"f":3.09},{"p":"100.0 bar","w":3.289,"f":2.04},{"p":"100.0 bar","w":3.318,"f":4.68},{"p":"100.0 bar","w":3.346,"f":2.51},{"p":"100.0 bar","w":3.374,"f":16.2},{"p":"100.0 bar","w":3.404,"f":56.2},{"p":"100.0 bar","w":3.433,"f":129},{"p":"100.0 bar","w":3.478,"f":240},{"p":"100.0 bar","w":3.523,"f":403},{"p":"100.0 bar","w":3.569,"f":708},{"p":"100.0 bar","w":3.615,"f":1135},{"p":"100.0 bar","w":3.646,"f":1318},{"p":"100.0 bar","w":3.678,"f":1396},{"p":"100.0 bar","w":3.725,"f":1469},{"p":"100.0 bar","w":3.757,"f":1549},{"p":"100.0 bar","w":3.78,"f":1845},{"p":"100.0 bar","w":3.806,"f":1259},{"p":"100.0 bar","w":3.838,"f":923},{"p":"100.0 bar","w":3.872,"f":363},{"p":"100.0 bar","w":3.922,"f":129},{"p":"100.0 bar","w":3.99,"f":45.7},{"p":"100.0 bar","w":4.061,"f":20},{"p":"100.0 bar","w":4.132,"f":8.71},{"p":"100.0 bar","w":4.16,"f":2.51},{"p":"100.0 bar","w":4.186,"f":0.112},{"p":"100.0 bar","w":4.207,"f":0.0003},{"p":"100.0 bar","w":4.362,"f":0.0003},{"p":"100.0 bar","w":4.38,"f":0.00269},{"p":"100.0 bar","w":4.403,"f":0.0003},{"p":"100.0 bar","w":4.425,"f":0.0003},{"p":"100.0 bar","w":4.464,"f":0.316},{"p":"100.0 bar","w":4.502,"f":7.08},{"p":"100.0 bar","w":4.561,"f":30.2},{"p":"100.0 bar","w":4.601,"f":35.5},{"p":"100.0 bar","w":4.66,"f":24.5},{"p":"100.0 bar","w":4.702,"f":30.2},{"p":"100.0 bar","w":4.763,"f":24.5},{"p":"100.0 bar","w":4.804,"f":13.2},{"p":"100.0 bar","w":4.845,"f":18},{"p":"100.0 bar","w":4.888,"f":10.7},{"p":"100.0 bar","w":4.93,"f":15.8},{"p":"100.0 bar","w":5.015,"f":7.08},{"p":"100.0 bar","w":5.081,"f":16.2},{"p":"100.0 bar","w":5.146,"f":4.68},{"p":"100.0 bar","w":5.213,"f":1.84},{"p":"100.0 bar","w":5.281,"f":5.75},{"p":"100.0 bar","w":5.336,"f":3.09},{"p":"100.0 bar","w":5.372,"f":3.8},{"p":"100.0 bar","w":5.427,"f":1.66},{"p":"100.0 bar","w":5.489,"f":2.79},{"p":"100.0 bar","w":5.56,"f":1.35},{"p":"100.0 bar","w":5.632,"f":2.04},{"p":"100.0 bar","w":5.705,"f":1.22},{"p":"100.0 bar","w":5.779,"f":1.1},{"p":"100.0 bar","w":5.829,"f":1.5},{"p":"100.0 bar","w":5.878,"f":0.891},{"p":"100.0 bar","w":5.93,"f":1.35},{"p":"100.0 bar","w":6.008,"f":1.1},{"p":"100.0 bar","w":6.086,"f":1.5},{"p":"100.0 bar","w":6.165,"f":1.84},{"p":"100.0 bar","w":6.229,"f":3.09},{"p":"100.0 bar","w":6.298,"f":4.68},{"p":"100.0 bar","w":6.368,"f":1.66},{"p":"100.0 bar","w":6.434,"f":1.35},{"p":"100.0 bar","w":6.517,"f":1.84},{"p":"100.0 bar","w":6.601,"f":1.84},{"p":"100.0 bar","w":6.687,"f":2.51},{"p":"100.0 bar","w":6.773,"f":3.09},{"p":"100.0 bar","w":6.861,"f":3.8},{"p":"100.0 bar","w":6.95,"f":4.22},{"p":"100.0 bar","w":7.04,"f":4.68},{"p":"100.0 bar","w":7.131,"f":6.38},{"p":"100.0 bar","w":7.223,"f":5.75},{"p":"100.0 bar","w":7.317,"f":7.85},{"p":"100.0 bar","w":7.412,"f":8.71},{"p":"100.0 bar","w":7.508,"f":10.7},{"p":"100.0 bar","w":7.574,"f":8.71},{"p":"100.0 bar","w":7.639,"f":30.2},{"p":"100.0 bar","w":7.704,"f":37.2},{"p":"100.0 bar","w":7.784,"f":22.1},{"p":"100.0 bar","w":7.873,"f":16.2},{"p":"100.0 bar","w":7.94,"f":37.2},{"p":"100.0 bar","w":8.043,"f":56.2},{"p":"100.0 bar","w":8.147,"f":50.7},{"p":"100.0 bar","w":8.253,"f":76.7},{"p":"100.0 bar","w":8.36,"f":69.2},{"p":"100.0 bar","w":8.468,"f":94.4},{"p":"100.0 bar","w":8.578,"f":116},{"p":"100.0 bar","w":8.689,"f":105},{"p":"100.0 bar","w":8.801,"f":158},{"p":"100.0 bar","w":8.899,"f":129},{"p":"100.0 bar","w":8.991,"f":105},{"p":"100.0 bar","w":9.108,"f":85.1},{"p":"100.0 bar","w":9.226,"f":105},{"p":"100.0 bar","w":9.3,"f":76.7},{"p":"100.0 bar","w":9.505,"f":94.4},{"p":"100.0 bar","w":9.67,"f":105},{"p":"100.0 bar","w":9.84,"f":129},{"p":"100.0 bar","w":9.985,"f":158},{"p":"100.0 bar","w":10.11,"f":116},{"p":"100.0 bar","w":10.29,"f":72.4},{"p":"100.0 bar","w":10.47,"f":94.4},{"p":"100.0 bar","w":10.6,"f":76.7},{"p":"100.0 bar","w":10.74,"f":85.1},{"p":"100.0 bar","w":10.88,"f":69.2},{"p":"100.0 bar","w":11.02,"f":105},{"p":"100.0 bar","w":11.16,"f":94.4},{"p":"100.0 bar","w":11.31,"f":76.7},{"p":"100.0 bar","w":11.45,"f":69.2},{"p":"100.0 bar","w":11.6,"f":85.1},{"p":"100.0 bar","w":11.7,"f":45.7},{"p":"100.0 bar","w":11.85,"f":94.4},{"p":"100.0 bar","w":12.0,"f":76.7},{"p":"100.0 bar","w":12.16,"f":85.1},{"p":"100.0 bar","w":12.31,"f":56.2},{"p":"100.0 bar","w":12.53,"f":27.2},{"p":"100.0 bar","w":12.69,"f":50.7},{"p":"100.0 bar","w":12.86,"f":33.5},{"p":"100.0 bar","w":13.02,"f":30.2},{"p":"100.0 bar","w":13.19,"f":20},{"p":"100.0 bar","w":13.36,"f":16.2},{"p":"100.0 bar","w":13.54,"f":11.2},{"p":"100.0 bar","w":13.72,"f":10.7},{"p":"100.0 bar","w":13.89,"f":4.9},{"p":"100.0 bar","w":14.01,"f":7.85},{"p":"100.0 bar","w":14.13,"f":4.68},{"p":"100.0 bar","w":14.26,"f":2.51},{"p":"100.0 bar","w":14.38,"f":1.22},{"p":"100.0 bar","w":14.5,"f":0.933},{"p":"100.0 bar","w":14.75,"f":0.863},{"p":"100.0 bar","w":15.07,"f":0.845},{"p":"100.0 bar","w":15.33,"f":0.933},{"p":"100.0 bar","w":15.52,"f":1.35},{"p":"100.0 bar","w":15.72,"f":1.66},{"p":"100.0 bar","w":15.86,"f":1.58},{"p":"100.0 bar","w":15.99,"f":5.75},{"p":"100.0 bar","w":16.09,"f":8.71},{"p":"100.0 bar","w":16.2,"f":4.22},{"p":"100.0 bar","w":16.33,"f":7.08},{"p":"100.0 bar","w":16.62,"f":8.71},{"p":"100.0 bar","w":16.97,"f":11.9},{"p":"100.0 bar","w":17.33,"f":10.7},{"p":"100.0 bar","w":17.56,"f":11.9},{"p":"100.0 bar","w":17.79,"f":14.6},{"p":"100.0 bar","w":18.02,"f":10.7},{"p":"100.0 bar","w":18.25,"f":8.71},{"p":"100.0 bar","w":18.49,"f":11.9},{"p":"100.0 bar","w":18.73,"f":11.9},{"p":"100.0 bar","w":18.97,"f":7.85},{"p":"100.0 bar","w":19.22,"f":9.66},{"p":"100.0 bar","w":19.56,"f":8.71},{"p":"100.0 bar","w":19.9,"f":11.9},{"p":"100.0 bar","w":20.16,"f":8.71},{"p":"100.0 bar","w":20.42,"f":7.08},{"p":"100.0 bar","w":20.77,"f":7.85},{"p":"100.0 bar","w":21.04,"f":6.38},{"p":"100.0 bar","w":21.41,"f":7.85},{"p":"100.0 bar","w":21.78,"f":4.68},{"p":"100.0 bar","w":22.06,"f":6.03},{"p":"100.0 bar","w":22.44,"f":5.75},{"p":"100.0 bar","w":22.83,"f":5.5},{"p":"100.0 bar","w":23.23,"f":5.19},{"p":"100.0 bar","w":23.73,"f":3.61},{"p":"100.0 bar","w":24.25,"f":5.5},{"p":"100.0 bar","w":24.67,"f":4.68},{"p":"100.0 bar","w":25.1,"f":3.09},{"p":"100.0 bar","w":25.53,"f":3.61},{"p":"100.0 bar","w":25.98,"f":3.25},{"p":"100.0 bar","w":26.43,"f":3.8},{"p":"100.0 bar","w":26.89,"f":2.51},{"p":"100.0 bar","w":27.36,"f":3.43},{"p":"100.0 bar","w":27.84,"f":2.79},{"p":"100.0 bar","w":28.32,"f":2.15},{"p":"100.0 bar","w":28.81,"f":2.63},{"p":"100.0 bar","w":29.31,"f":2.51},{"p":"100.0 bar","w":29.82,"f":2.04},{"p":"100.0 bar","w":30.0,"f":2.2}
]},
"layer":[
{"data":{"name":"spec"},
 "mark":{"type":"line","clip":true,"strokeWidth":2.6},
 "encoding":{
  "x":{"field":"w","type":"quantitative","scale":{"type":"log","domain":[0.8,30],"nice":false,"zero":false},
   "axis":{"orient":"bottom","values":[0.8,0.9,1,1.5,2,3,4,5,6,7,8,9,10,20,30],
    "labelExpr":"datum.value==0.8?'0.8':datum.value==1?'1.0':datum.value==1.5?'1.5':(indexof([0.9,4,6,8,9],datum.value)>=0?'':''+datum.value)",
    "tickSize":{"condition":{"test":"indexof([0.9,4,6,8,9],datum.value)>=0","value":-11},"value":-21},
    "labelPadding":29,"labelBaseline":"top","title":"wavelength (μm)","titleY":96,"titleBaseline":"alphabetic"}},
  "y":{"field":"f","type":"quantitative","scale":{"type":"log","domain":[0.001,10000],"nice":false},
   "axis":{"orient":"left","values":[0.001,0.002,0.003,0.004,0.005,0.006,0.007,0.008,0.009,0.01,0.02,0.03,0.04,0.05,0.06,0.07,0.08,0.09,0.1,0.2,0.3,0.4,0.5,0.6,0.7,0.8,0.9,1,2,3,4,5,6,7,8,9,10,20,30,40,50,60,70,80,90,100,200,300,400,500,600,700,800,900,1000,2000,3000,4000,5000,6000,7000,8000,9000,10000],
    "labelExpr":"(abs(log(datum.value)/LN10-round(log(datum.value)/LN10))<0.001)?['10⁻³','10⁻²','10⁻¹','10⁰','10¹','10²','10³','10⁴'][round(log(datum.value)/LN10)+3]:''",
    "tickSize":{"condition":{"test":"abs(log(datum.value)/LN10-round(log(datum.value)/LN10))<0.001","value":-21},"value":-11},
    "labelFontSize":40,"labelPadding":34,"labelBaseline":"middle","title":"flux (W/m² /μm)","titleFontSize":49,"titleX":-130,"titleY":382.5,"titleAngle":-90,"titleBaseline":"alphabetic","titleAlign":"center"}},
  "color":{"field":"p","type":"nominal","scale":{"domain":["1.0 bar","10.0 bar","100.0 bar"],"range":["#00ffff","#008080","#000080"]},
   "legend":{"orient":"none","legendX":35,"legendY":10,"direction":"horizontal","title":null,"symbolType":"stroke","symbolSize":7056,"symbolStrokeWidth":3,"labelFont":"DejaVu Serif","labelFontSize":40,"labelLimit":600,"labelOffset":34,"columnPadding":72,"padding":0,"labelColor":"black"}}
 }},
{"data":{"values":[{}]},
 "mark":{"type":"text","font":"Open Sans","fontWeight":"bold","fontSize":62,"color":"#ef2312","align":"center","baseline":"alphabetic"},
 "encoding":{
  "x":{"datum":9.89,"type":"quantitative","scale":{"type":"log","domain":[0.8,30],"nice":false,"zero":false},
   "axis":{"orient":"top","values":[0.8,0.9,1,1.5,2,3,4,5,6,7,8,9,10,20,30],"labels":false,"title":null,
    "tickSize":{"condition":{"test":"indexof([0.9,4,6,8,9],datum.value)>=0","value":-11},"value":-21}}},
  "y":{"datum":0.0112,"type":"quantitative","scale":{"type":"log","domain":[0.001,10000],"nice":false},
   "axis":{"orient":"right","values":[0.001,0.002,0.003,0.004,0.005,0.006,0.007,0.008,0.009,0.01,0.02,0.03,0.04,0.05,0.06,0.07,0.08,0.09,0.1,0.2,0.3,0.4,0.5,0.6,0.7,0.8,0.9,1,2,3,4,5,6,7,8,9,10,20,30,40,50,60,70,80,90,100,200,300,400,500,600,700,800,900,1000,2000,3000,4000,5000,6000,7000,8000,9000,10000],"labels":false,"title":null,
    "tickSize":{"condition":{"test":"abs(log(datum.value)/LN10-round(log(datum.value)/LN10))<0.001","value":-21},"value":-11}}},
  "text":{"value":"emission"}
 }}
],
"resolve":{"axis":{"x":"independent","y":"independent"}}
}
